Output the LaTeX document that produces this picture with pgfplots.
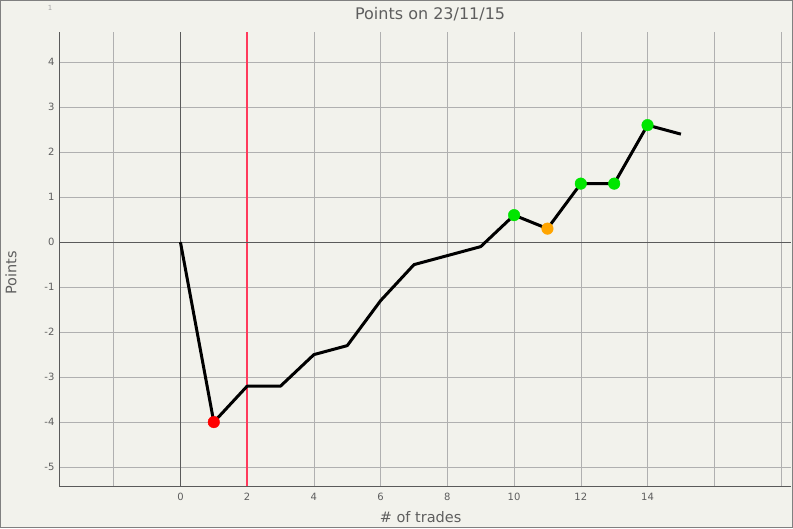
\documentclass[border=0pt]{standalone}
\usepackage{fontspec}
\setmainfont{DejaVu Sans}
\usepackage{pgfplots}
\pgfplotsset{compat=1.18}
\definecolor{bg}{HTML}{F2F2EC}
\definecolor{gridc}{HTML}{B0B0B0}
\definecolor{axc}{HTML}{5A5A5A}
\definecolor{txt}{HTML}{5E5E5E}
\definecolor{vmark}{HTML}{FF3A5C}
\definecolor{ptred}{HTML}{FF0000}
\definecolor{ptgreen}{HTML}{00E600}
\definecolor{ptorange}{HTML}{FFA500}

\begin{document}
\begin{tikzpicture}[x=1pt,y=1pt]
\fill[bg] (0,0) rectangle (793,528);
\draw[color=gray, line width=1.2pt] (0.6,0.6) rectangle (792.4,527.4);
\node[text=gray!70, font=\fontsize{7}{8}\selectfont] at (50,520) {1};
\begin{axis}[
    at={(59pt,42pt)}, anchor=south west,
    scale only axis, width=732pt, height=454pt,
    xmin=-3.64, xmax=18.3, ymin=-5.42, ymax=4.67,
    axis lines*=left,
    axis line style={color=axc, line width=0.8pt},
    xtick={-2,0,4,6,...,18},
    xticklabels={,0,4,6,8,10,12,14,,},
    extra x ticks={2},
    extra x tick labels={2},
    extra x tick style={grid style={color=vmark, line width=1.5pt}},
    ytick={-5,-4,...,4},
    major tick length=0pt,
    grid=major,
    grid style={color=gridc, line width=0.6pt},
    tick label style={text=txt, font=\fontsize{10}{11}\selectfont},
    /pgf/number format/assume math mode=true,
    xticklabel style={yshift=-4pt},
    yticklabel style={xshift=-1pt},
    title={Points on 23/11/15},
    title style={text=txt, font=\fontsize{16}{18}\selectfont, at={(0.507,1)}, anchor=south, yshift=1pt},
    xlabel={\# of trades},
    xlabel style={text=txt, font=\fontsize{14.5}{16}\selectfont, at={(0.494,0)}, anchor=north, yshift=-22pt},
    ylabel={Points},
    ylabel style={text=txt, font=\fontsize{14.5}{16}\selectfont, at={(0,0.47)}, anchor=south, yshift=39pt},
    clip=false,
]
\draw[color=axc, line width=0.8pt] (axis cs:0,-5.42) -- (axis cs:0,4.67);
\draw[color=axc, line width=0.8pt] (axis cs:-3.64,0) -- (axis cs:18.3,0);
\addplot[black, line width=3pt, mark=none, line join=round] coordinates {
    (0,0) (1,-4) (2,-3.2) (3,-3.2) (4,-2.5) (5,-2.3) (6,-1.3) (7,-0.5)
    (8,-0.3) (9,-0.1) (10,0.6) (11,0.3) (12,1.3) (13,1.3) (14,2.6) (15,2.4)
};
\addplot[only marks, mark=*, mark size=5.8pt, color=ptred] coordinates {(1,-4)};
\addplot[only marks, mark=*, mark size=5.8pt, color=ptgreen] coordinates {
    (10,0.6) (12,1.3) (13,1.3) (14,2.6)
};
\addplot[only marks, mark=*, mark size=5.8pt, color=ptorange] coordinates {(11,0.3)};
\end{axis}
\end{tikzpicture}
\end{document}
